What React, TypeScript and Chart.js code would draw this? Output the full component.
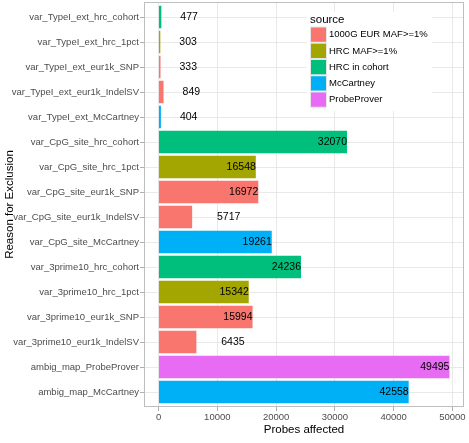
import React, { useEffect, useRef } from "react";
import { Chart, registerables } from "chart.js";

Chart.register(...registerables);

// Exclusion reasons, top to bottom
const categories = [
  "var_TypeI_ext_hrc_cohort",
  "var_TypeI_ext_hrc_1pct",
  "var_TypeI_ext_eur1k_SNP",
  "var_TypeI_ext_eur1k_IndelSV",
  "var_TypeI_ext_McCartney",
  "var_CpG_site_hrc_cohort",
  "var_CpG_site_hrc_1pct",
  "var_CpG_site_eur1k_SNP",
  "var_CpG_site_eur1k_IndelSV",
  "var_CpG_site_McCartney",
  "var_3prime10_hrc_cohort",
  "var_3prime10_hrc_1pct",
  "var_3prime10_eur1k_SNP",
  "var_3prime10_eur1k_IndelSV",
  "ambig_map_ProbeProver",
  "ambig_map_McCartney",
];

// Number of probes affected per reason
const probes = [
  477, 303, 333, 849, 404, 32070, 16548, 16972, 5717, 19261, 24236, 15342,
  15994, 6435, 49495, 42558,
];

// Annotation source per reason
const sourceOf = [
  "HRC in cohort",
  "HRC MAF>=1%",
  "1000G EUR MAF>=1%",
  "1000G EUR MAF>=1%",
  "McCartney",
  "HRC in cohort",
  "HRC MAF>=1%",
  "1000G EUR MAF>=1%",
  "1000G EUR MAF>=1%",
  "McCartney",
  "HRC in cohort",
  "HRC MAF>=1%",
  "1000G EUR MAF>=1%",
  "1000G EUR MAF>=1%",
  "ProbeProver",
  "McCartney",
];

const sources = [
  "1000G EUR MAF>=1%",
  "HRC MAF>=1%",
  "HRC in cohort",
  "McCartney",
  "ProbeProver",
];
const sourceColors = ["#F8766D", "#A3A500", "#00BF7D", "#00B0F6", "#E76BF3"];

const xTicks = [0, 10000, 20000, 30000, 40000, 50000];

const FONT = "'Liberation Sans', Arial, Helvetica, sans-serif";

const colorFor = (s: string) => sourceColors[sources.indexOf(s)];

const overlay = {
  id: "overlay",
  afterDraw(chart: any) {
    const { ctx, chartArea } = chart;
    const xs = chart.scales.x;
    const ys = chart.scales.y;
    ctx.save();

    // panel border
    ctx.strokeStyle = "#BEBEBE";
    ctx.lineWidth = 1;
    ctx.strokeRect(
      chartArea.left + 0.5,
      chartArea.top + 0.5,
      chartArea.right - chartArea.left - 1,
      chartArea.bottom - chartArea.top - 1
    );

    // value labels
    ctx.font = `10.5px ${FONT}`;
    ctx.fillStyle = "#000000";
    ctx.textBaseline = "middle";
    probes.forEach((v, i) => {
      const px = xs.getPixelForValue(v);
      const py = ys.getPixelForValue(i);
      const label = String(v);
      if (v >= 10000) {
        ctx.textAlign = "right";
        ctx.fillText(label, px, py);
      } else {
        const w = ctx.measureText(label).width;
        ctx.textAlign = "left";
        ctx.fillText(label, px + w + 1.5, py);
      }
    });

    // legend
    const lx = 307;
    const ly = 12;
    ctx.fillStyle = "#FFFFFF";
    ctx.fillRect(lx, ly, 125, 99);
    ctx.fillStyle = "#000000";
    ctx.textAlign = "left";
    ctx.textBaseline = "middle";
    ctx.font = `11.5px ${FONT}`;
    ctx.fillText("source", 310, 19.5);
    const keyH = 16.25;
    ctx.font = `9.5px ${FONT}`;
    sources.forEach((s, i) => {
      const top = 26.5 + i * keyH;
      ctx.fillStyle = "#E6E6E6";
      ctx.fillRect(310, top, 17, keyH);
      ctx.fillStyle = sourceColors[i];
      ctx.fillRect(311, top + 1, 15, keyH - 2);
      ctx.fillStyle = "#000000";
      ctx.fillText(s, 329, top + keyH / 2);
    });

    // axis titles
    ctx.fillStyle = "#000000";
    ctx.font = `11.5px ${FONT}`;
    ctx.textAlign = "center";
    ctx.textBaseline = "middle";
    ctx.fillText(
      "Probes affected",
      (chartArea.left + chartArea.right) / 2,
      430
    );
    ctx.translate(10, (chartArea.top + chartArea.bottom) / 2);
    ctx.rotate(-Math.PI / 2);
    ctx.fillText("Reason for Exclusion", 0, 0);
    ctx.restore();
  },
};

export default function App() {
  const canvasRef = useRef<HTMLCanvasElement | null>(null);

  useEffect(() => {
    document.body.style.margin = "0";
    const canvas = canvasRef.current;
    if (!canvas) return;

    const lo = 0;
    const hi = Math.max(...probes);
    const pad = (hi - lo) * 0.05;

    const chart = new Chart(canvas, {
      type: "bar",
      data: {
        datasets: [
          {
            data: probes.map((v, i) => ({ x: v, y: i })),
            backgroundColor: sourceOf.map(colorFor),
            borderWidth: 0,
            barPercentage: 0.9,
            categoryPercentage: 1,
          },
        ],
      },
      plugins: [overlay],
      options: {
        indexAxis: "y",
        animation: false,
        responsive: false,
        devicePixelRatio: 1,
        layout: { padding: { top: 2, right: 5, left: 0, bottom: 0 } },
        plugins: {
          legend: { display: false },
          tooltip: { enabled: false },
        },
        scales: {
          x: {
            type: "linear",
            min: lo - pad,
            max: hi + pad,
            afterBuildTicks: (scale: any) => {
              scale.ticks = xTicks.map((v) => ({ value: v }));
            },
            afterFit: (scale: any) => {
              scale.height = 36;
              scale.paddingLeft = 0;
              scale.paddingRight = 0;
            },
            grid: {
              color: "#E3E3E3",
              lineWidth: 0.8,
              tickColor: "#9A9A9A",
              tickLength: 4,
            },
            border: { display: false },
            ticks: {
              color: "#4D4D4D",
              padding: 1,
              maxRotation: 0,
              font: { family: FONT, size: 9.5 },
              callback: (v: any) => String(v),
            },
          },
          y: {
            type: "linear",
            reverse: true,
            offset: false,
            min: -0.6,
            max: categories.length - 1 + 0.6,
            afterBuildTicks: (scale: any) => {
              scale.ticks = categories.map((_, i) => ({ value: i }));
            },
            afterFit: (scale: any) => {
              scale.width = 144;
              scale.paddingTop = 0;
              scale.paddingBottom = 0;
            },
            grid: {
              offset: false,
              color: "#E3E3E3",
              lineWidth: 0.8,
              tickColor: "#9A9A9A",
              tickLength: 4,
            },
            border: { display: false },
            ticks: {
              color: "#4D4D4D",
              padding: 1,
              autoSkip: false,
              font: { family: FONT, size: 9.5 },
              callback: (v: any) => categories[v] ?? "",
            },
          },
        },
      },
    } as any);

    return () => chart.destroy();
  }, []);

  return (
    <div style={{ position: "fixed", left: 0, top: 0, width: 469, height: 443 }}>
      <canvas ref={canvasRef} width={469} height={443} style={{ display: "block" }} />
    </div>
  );
}
